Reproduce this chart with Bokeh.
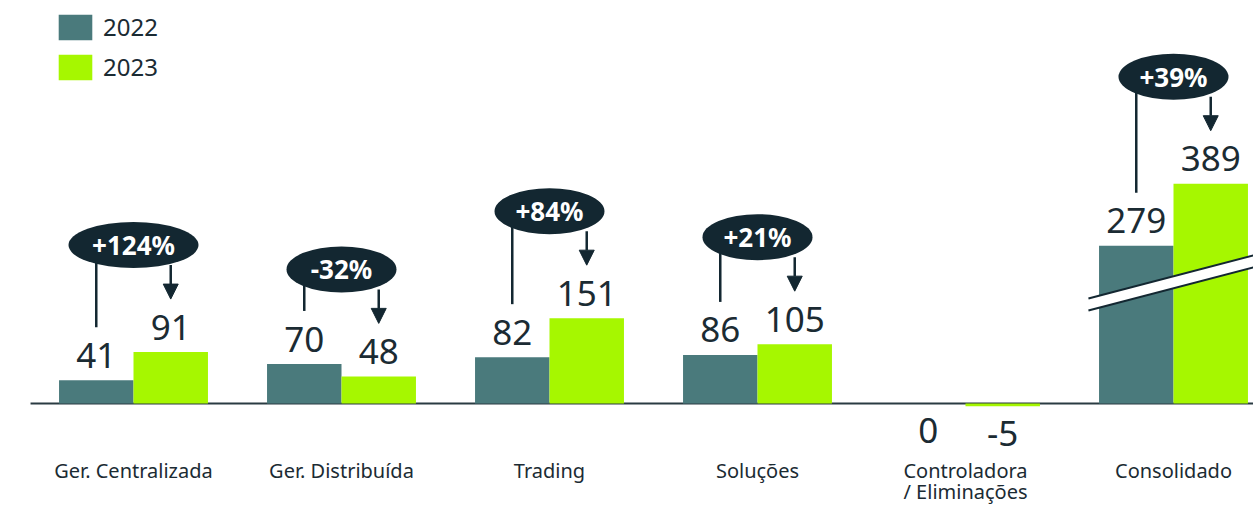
from bokeh.plotting import figure
from bokeh.models import Range1d, Legend, LegendItem, Arrow, NormalHead, ColumnDataSource
from bokeh.core.properties import value
from bokeh.embed import file_html
from bokeh.resources import INLINE

# ---------------- data ----------------
categories = ["Ger. Centralizada", "Ger. Distribuída", "Trading", "Soluções",
              "Controladora\n/ Eliminações", "Consolidado"]
values_2022 = [41, 70, 82, 86, 0, 279]
values_2023 = [91, 48, 151, 105, -5, 389]
changes = ["+124%", "-32%", "+84%", "+21%", "", "+39%"]
series_names = ["2022", "2023"]

# ---------------- style ----------------
C22 = "#4a7a7c"
C23 = "#a6f700"
NAVY = "#132731"
TEXT = "#1b2b33"
AXIS = "#2a3b42"
FONT = "Noto Sans"

W, H = 1253, 507
XPX = 208.0      # px per category
YPX = 0.565      # px per value unit
X_LEFT_PX = 133  # px from left edge to first category centre
BASE_PX = 403    # px from top to zero line
OFF = 0.179      # half spacing of the two bars
BW = 0.358       # bar width
SHIFT = 0.37     # text baseline correction (em)

p = figure(width=W, height=H, output_backend="svg", toolbar_location=None,
           x_range=Range1d(-X_LEFT_PX / XPX, (W - X_LEFT_PX) / XPX),
           y_range=Range1d(-(H - BASE_PX) / YPX, BASE_PX / YPX),
           x_axis_location=None, y_axis_location=None, min_border=0,
           background_fill_color="white", border_fill_color="white")
p.outline_line_color = None
p.grid.visible = False

n = len(categories)
idx = list(range(n))
src = ColumnDataSource(dict(
    x22=[i - OFF for i in idx], x23=[i + OFF for i in idx],
    v22=values_2022, v23=values_2023))

# zero line
p.segment(x0=[-0.495], y0=[0], x1=[n], y1=[0], line_color=AXIS, line_width=2)

r22 = p.vbar(x="x22", top="v22", bottom=0, width=BW, source=src,
             fill_color=C22, line_color=None)
r23 = p.vbar(x="x23", top="v23", bottom=0, width=BW, source=src,
             fill_color=C23, line_color=None)

# axis-break mark on the consolidated group
last = n - 1
bx0, bx1 = last - 0.409, last + 0.45
by0 = 186.0
by1 = by0 + (bx1 - bx0) * XPX * (43.0 / 165.0) / YPX
gap = 12.0 / YPX
p.patch([bx0, bx1, bx1, bx0], [by0, by1, by1 - gap, by0 - gap],
        fill_color="white", line_color=None)
p.segment(x0=[bx0, bx0], y0=[by0, by0 - gap], x1=[bx1, bx1], y1=[by1, by1 - gap],
          line_color=NAVY, line_width=2)

# value labels
vfs = 35
for xs, vals in (([i - OFF for i in idx], values_2022), ([i + OFF for i in idx], values_2023)):
    pos_x = [x for x, v in zip(xs, vals) if v > 0]
    pos_v = [v for v in vals if v > 0]
    neg_x = [x for x, v in zip(xs, vals) if v <= 0]
    neg_v = [v for v in vals if v <= 0]
    p.text(x=pos_x, y=pos_v, text=[str(v) for v in pos_v], y_offset=-12 - SHIFT * vfs,
           text_align="center", text_baseline="alphabetic",
           text_font=value(FONT), text_font_size=f"{vfs}px", text_color=TEXT)
    p.text(x=neg_x, y=neg_v, text=[str(v) for v in neg_v], y_offset=40 - SHIFT * vfs,
           text_align="center", text_baseline="alphabetic",
           text_font=value(FONT), text_font_size=f"{vfs}px", text_color=TEXT)

# change bubbles with connector and arrow
for i in idx:
    ch = changes[i]
    if not ch:
        continue
    ey = values_2023[i] + 107 / YPX
    if values_2022[i] > 0:
        p.segment(x0=[i - OFF], y0=[ey], x1=[i - OFF], y1=[values_2022[i] + 53 / YPX],
                  line_color=NAVY, line_width=2.5)
    p.add_layout(Arrow(x_start=i + OFF, y_start=ey - 20 / YPX,
                       x_end=i + OFF, y_end=values_2023[i] + 53 / YPX,
                       line_color=NAVY, line_width=2.5,
                       end=NormalHead(size=15, fill_color=NAVY, line_color=NAVY)))
    p.ellipse(x=[i], y=[ey], width=[(30 + 20 * len(ch)) / XPX], height=[46 / YPX],
              fill_color=NAVY, line_color=None)
    p.text(x=[i], y=[ey], text=[ch], text_align="center", text_baseline="middle",
           text_font=value(FONT), text_font_size="26px", text_font_style="bold",
           text_color="white")

# category labels
cfs = 20
for i, cat in enumerate(categories):
    for k, line in enumerate(cat.split("\n")):
        p.text(x=[i], y=[0], text=[line], y_offset=74 + 21 * k - SHIFT * cfs,
               text_align="center", text_baseline="alphabetic",
               text_font=value(FONT), text_font_size=f"{cfs}px", text_color=TEXT)

legend = Legend(items=[LegendItem(label=series_names[0], renderers=[r22]),
                       LegendItem(label=series_names[1], renderers=[r23])],
                location=(54, 424), orientation="vertical",
                glyph_width=42, glyph_height=32, label_height=32, spacing=7,
                padding=0, margin=0, label_standoff=7,
                border_line_color=None, background_fill_alpha=0,
                label_text_font=FONT, label_text_font_size="24px",
                label_text_color=TEXT)
p.add_layout(legend)

open("out.html", "w").write(file_html(p, INLINE))
